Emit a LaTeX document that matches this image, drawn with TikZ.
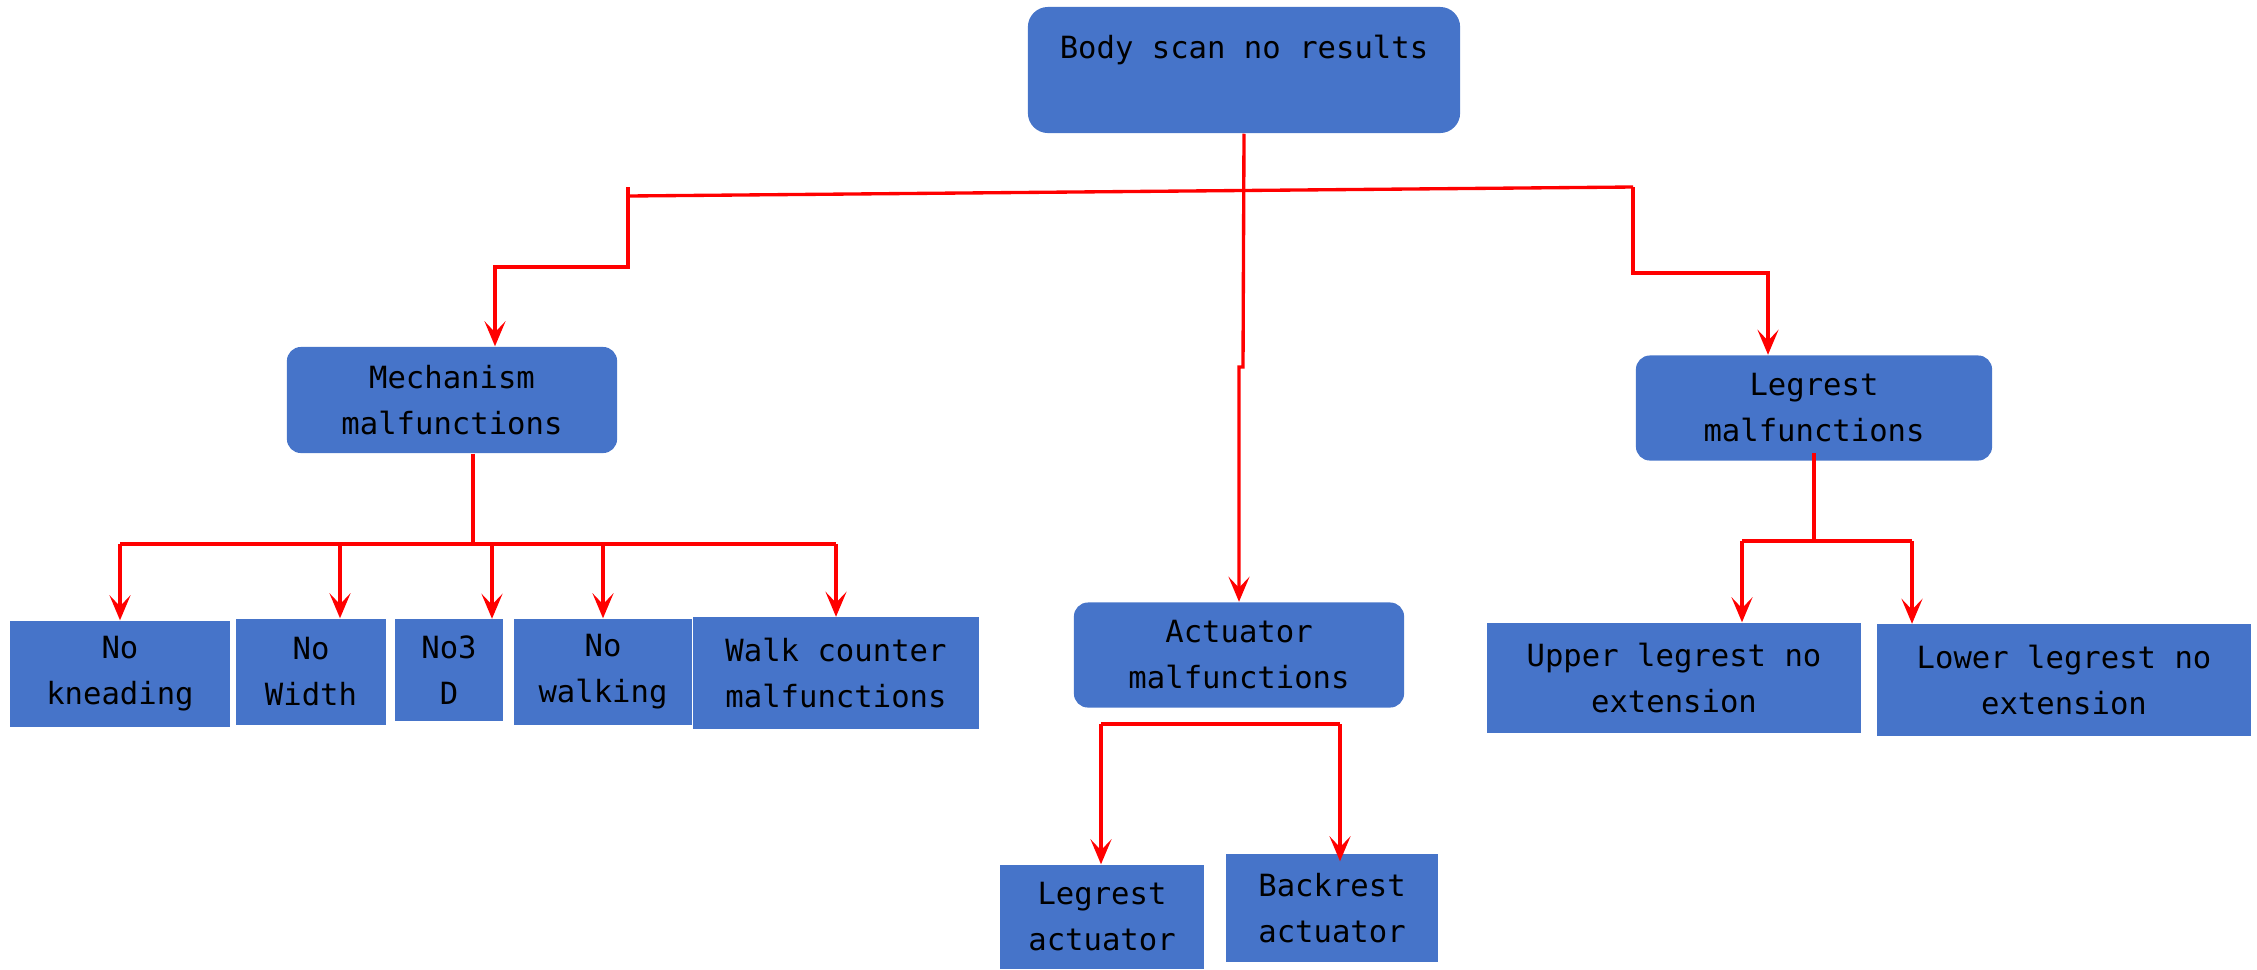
\documentclass[tikz,border=0pt]{standalone}
\usepackage{fontspec}
\newfontfamily\boxfont{DejaVu Sans Mono}
\usetikzlibrary{arrows.meta,positioning,calc}
\definecolor{boxblue}{HTML}{4674C9}

\begin{document}
\begin{tikzpicture}[
        x=0.01cm, y=-0.01cm,
        box/.style={fill=boxblue, inner sep=0pt, align=center,
            font=\boxfont\fontsize{8.7pt}{13.1pt}\selectfont},
        group/.style={box, rounded corners=0.14cm},
        link/.style={red, line width=0.95pt},
        arr/.style={link, -{Stealth[length=0.25cm, width=0.21cm, inset=0.11cm]}},
    ]
        \useasboundingbox (0,0) rectangle (2257,969);

        % Root
        \node[group, rounded corners=0.2cm, minimum width=4.32cm, minimum height=1.26cm] (root) at (1244,70) {Body scan no results\\~};

        % Groups
        \node[group, minimum width=3.30cm, minimum height=1.06cm] (mech) at (452,400) {Mechanism\\malfunctions};
        \node[group, minimum width=3.30cm, minimum height=1.05cm] (act) at (1239,655) {Actuator\\malfunctions};
        \node[group, minimum width=3.56cm, minimum height=1.05cm] (leg) at (1814,408) {Legrest\\malfunctions};

        % Causes
        \node[box, minimum width=2.19cm, minimum height=1.06cm] (knead) at (120,674) {No\\kneading};
        \node[box, minimum width=1.50cm, minimum height=1.06cm] (wide) at (311,672) {No\\Width};
        \node[box, minimum width=1.07cm, minimum height=1.01cm] (threed) at (449,670) {No3\\D};
        \node[box, minimum width=1.78cm, minimum height=1.06cm] (walk) at (603,672) {No\\walking};
        \node[box, minimum width=2.85cm, minimum height=1.11cm] (counter) at (836,673) {Walk counter\\malfunctions};
        \node[box, minimum width=3.73cm, minimum height=1.10cm] (upper) at (1674,678) {Upper legrest no\\extension};
        \node[box, minimum width=3.73cm, minimum height=1.11cm] (lower) at (2064,680) {Lower legrest no\\extension};
        \node[box, minimum width=2.04cm, minimum height=1.04cm] (legact) at (1102,917) {Legrest\\actuator};
        \node[box, minimum width=2.12cm, minimum height=1.08cm] (backact) at (1332,908) {Backrest\\actuator};

        % Bends
        \coordinate (busL) at (628,196);
        \coordinate (busR) at (1633,187);
        \coordinate (rootJog) at (1243,367);
        \coordinate (mechIn) at (495,267);
        \coordinate (legIn) at (1768,273);
        \coordinate (mechBus) at (473,544);
        \coordinate (actBusL) at (1101,724);
        \coordinate (actBusR) at (1340,724);
        \coordinate (legBus) at (1814,541);

        % Top level
        \draw[link] (busL) -- (busR);
        \draw[arr] (root.south) -- (rootJog) -- (rootJog -| act.north) -- (act.north);
        \draw[arr] (busL |- busR) -- (busL |- mechIn) -- (mechIn) -- (mechIn |- mech.north);
        \draw[arr] (busR) -- (busR |- legIn) -- (legIn) -- (legIn |- leg.north);

        % Mechanism causes
        \draw[link] ($(mech.south)+(21,0)$) -- (mechBus);
        \draw[link] (knead.north |- mechBus) -- (counter.north |- mechBus);
        \foreach \n/\dx in {knead/0, wide/29, threed/43, walk/0, counter/0}
            \draw[arr] ($(\n.north |- mechBus)+(\dx,0)$) -- ($(\n.north)+(\dx,0)$);

        % Actuator causes
        \draw[link] (actBusL) -- (actBusR);
        \draw[arr] (actBusL) -- (actBusL |- legact.north);
        \draw[arr] (actBusR) -- ($(actBusR |- backact.north)+(0,8)$);

        % Legrest causes
        \draw[link] ($(leg.south)+(0,-8)$) -- (legBus);
        \draw[link] (upper.north |- legBus) ++(68,0) -- ++(170,0);
        \draw[arr] ($(upper.north |- legBus)+(68,0)$) -- ($(upper.north)+(68,0)$);
        \draw[arr] ($(lower.north |- legBus)+(-152,0)$) -- ($(lower.north)+(-152,0)$);
    \end{tikzpicture}
\end{document}
